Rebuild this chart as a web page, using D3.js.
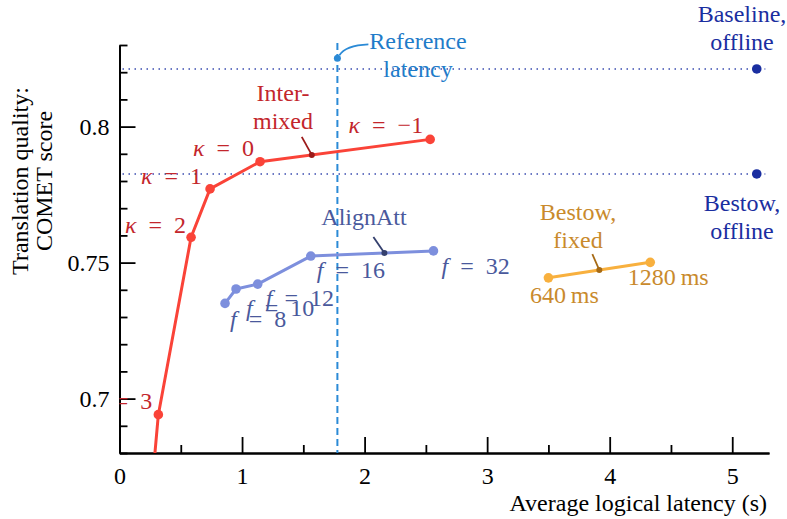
<!DOCTYPE html>
<html>
<head>
<meta charset="utf-8">
<script src="https://cdn.jsdelivr.net/npm/d3@7"></script>
<style>
  body { margin: 0; background: #fff; }
  svg text { font-family: "Liberation Serif", "Times New Roman", serif; }
  .axis path, .axis line { stroke: #000; stroke-width: 1.8; }
  .axis text { font-size: 24px; fill: #000; }
</style>
</head>
<body>
<div id="chart"></div>
<script>
// ---- data ----
var kappaLabels = ["\u22121", "0", "1", "2", "3", "4"];
var kappaLatency = [2.535, 1.147, 0.739, 0.584, 0.317, 0.21];
var kappaComet = [0.7953, 0.7871, 0.7771, 0.7593, 0.6941, 0.64];

var fLabels = ["8", "10", "12", "16", "32"];
var fLatency = [0.861, 0.951, 1.128, 1.561, 2.562];
var fComet = [0.7350, 0.7403, 0.7421, 0.7524, 0.7543];

var fixedLabels = ["640\u2009ms", "1280\u2009ms"];
var fixedLatency = [3.50, 4.331];
var fixedComet = [0.7444, 0.7501];

var offlineNames = [["Baseline,", "offline"], ["Bestow,", "offline"]];
var offlineLatency = [5.20, 5.20];
var offlineComet = [0.8212, 0.7826];

var referenceLatency = 1.778;
var referenceComet = 0.8251;

var xTicks = [0, 1, 2, 3, 4, 5];
var xMinor = [0.5, 1.5, 2.5, 3.5, 4.5];
var yTicks = [0.7, 0.75, 0.8];
var yMinor = [0.68, 0.69, 0.71, 0.72, 0.73, 0.74, 0.76, 0.77, 0.78, 0.79, 0.81, 0.82, 0.83];

// ---- layout ----
var svgwidth = 787, svgheight = 519;
var plotLeft = 119.5, plotRight = 769, plotTop = 45, plotBottom = 453;
var fs = "24px";

var red = "#fa4338", redText = "#c3262c";
var blue = "#7d8fdd", blueText = "#4a599c";
var orange = "#f8b03e", orangeText = "#c98a2c";
var navy = "#1a2ea0";
var refBlue = "#2b8ad6", refText = "#1f7cc9";

var svg = d3.select("#chart").append("svg")
    .attr("width", svgwidth)
    .attr("height", svgheight);

var x = d3.scaleLinear().domain([0, 5.3]).range([plotLeft, plotRight]);
var y = d3.scaleLinear().domain([0.68, 0.83]).range([plotBottom, plotTop]);

svg.append("clipPath").attr("id", "plot")
  .append("rect").attr("x", plotLeft).attr("y", 0)
  .attr("width", svgwidth - plotLeft).attr("height", plotBottom);

// axes
svg.append("g").attr("class", "axis")
    .attr("transform", `translate(0,${plotBottom})`)
    .call(d3.axisBottom(x).tickValues(xMinor).tickSizeInner(-8).tickSizeOuter(0).tickFormat(""));
svg.append("g").attr("class", "axis")
    .attr("transform", `translate(0,${plotBottom})`)
    .call(d3.axisBottom(x).tickValues(xTicks).tickSizeInner(-16).tickSizeOuter(0).tickPadding(14).tickFormat(d3.format("d")));
svg.append("g").attr("class", "axis")
    .attr("transform", `translate(${plotLeft},0)`)
    .call(d3.axisLeft(y).tickValues(yMinor).tickSizeInner(-8).tickSizeOuter(0).tickFormat(""));
svg.append("g").attr("class", "axis")
    .attr("transform", `translate(${plotLeft},0)`)
    .call(d3.axisLeft(y).tickValues(yTicks).tickSizeInner(-16).tickSizeOuter(0).tickPadding(10).tickFormat(d => d3.format("")(d)));
svg.selectAll(".axis .domain").attr("stroke-width", 2);

// axis titles
svg.append("text")
    .attr("x", 767).attr("y", 511)
    .attr("text-anchor", "end")
    .style("font-size", fs)
    .text("Average logical latency (s)");

var ytitle = svg.append("text")
    .attr("transform", "translate(28,181) rotate(-90)")
    .attr("text-anchor", "middle")
    .style("font-size", fs);
ytitle.append("tspan").attr("x", 0).attr("y", 0).text("Translation quality:");
ytitle.append("tspan").attr("x", 0).attr("y", 24).text("COMET score");

// offline dotted lines
offlineComet.forEach(function (c, i) {
  svg.append("line")
    .attr("x1", x(0) + 3).attr("x2", x(5.27))
    .attr("y1", y(c)).attr("y2", y(c))
    .attr("stroke", "#3a4cb0").attr("stroke-width", 1.5)
    .attr("stroke-dasharray", "1.5,4.5");
  svg.append("circle").attr("cx", x(offlineLatency[i])).attr("cy", y(c)).attr("r", 4.8).attr("fill", navy);
});

// reference latency
svg.append("line")
  .attr("x1", x(referenceLatency)).attr("x2", x(referenceLatency))
  .attr("y1", plotTop - 2).attr("y2", plotBottom)
  .attr("stroke", refBlue).attr("stroke-width", 2)
  .attr("stroke-dasharray", "7,4");
svg.append("circle").attr("cx", x(referenceLatency)).attr("cy", y(referenceComet)).attr("r", 3.5).attr("fill", refBlue);
var rx = x(referenceLatency), ry = y(referenceComet);
svg.append("path")
  .attr("d", `M${rx + 2},${ry - 3} Q${rx + 8},${ry - 13} ${rx + 31},${ry - 14}`)
  .attr("fill", "none").attr("stroke", refBlue).attr("stroke-width", 1.8);

var plot = svg.append("g").attr("clip-path", "url(#plot)");

function series(xs, ys, color) {
  var pts = xs.map((v, i) => [x(v), y(ys[i])]);
  plot.append("path")
    .attr("d", d3.line()(pts))
    .attr("fill", "none").attr("stroke", color)
    .attr("stroke-width", 3).attr("stroke-linejoin", "round");
  plot.selectAll(null).data(pts).enter().append("circle")
    .attr("cx", d => d[0]).attr("cy", d => d[1]).attr("r", 4.8).attr("fill", color);
  return pts;
}

// small annotation dot on a segment, with a short leader line
function marker(pts, i, t, color, lx, ly) {
  var mx = pts[i][0] + (pts[i + 1][0] - pts[i][0]) * t;
  var my = pts[i][1] + (pts[i + 1][1] - pts[i][1]) * t;
  svg.append("line").attr("x1", mx + lx).attr("y1", my + ly).attr("x2", mx).attr("y2", my)
    .attr("stroke", color).attr("stroke-width", 1.8);
  svg.append("circle").attr("cx", mx).attr("cy", my).attr("r", 3).attr("fill", color);
}

var kPts = series(kappaLatency, kappaComet, red);
var fPts = series(fLatency, fComet, blue);
var bPts = series(fixedLatency, fixedComet, orange);

marker(kPts, 0, 0.696, "#9c1a1a", -10, -18);
marker(fPts, 3, 0.6, "#34406e", -11, -16);
marker(bPts, 0, 0.5, "#a66a15", -7, -16);

// labels
var labels = svg.append("g").attr("clip-path", "url(#plot)").style("font-size", fs);

function mathLabel(g, sym, val, px, py, anchor, color) {
  var t = g.append("text").attr("x", px).attr("y", py)
    .attr("text-anchor", anchor).attr("fill", color);
  t.append("tspan").style("font-style", "italic").text(sym);
  t.append("tspan").text("\u2002=\u2002" + val);
}

var kOff = [[-7, -6], [-6, -6], [-8, -5], [-5, -4], [-6, -6]];
kOff.forEach(function (o, i) {
  mathLabel(labels, "\u03ba", kappaLabels[i], kPts[i][0] + o[0], kPts[i][1] + o[1], "end", redText);
});

var fOff = [[5, 24], [10, 27], [8, 22], [6, 22], [8, 23]];
fOff.forEach(function (o, i) {
  mathLabel(labels, "f", fLabels[i], fPts[i][0] + o[0], fPts[i][1] + o[1], "start", blueText);
});

var bOff = [[16, 25], [18, 23]];
bOff.forEach(function (o, i) {
  labels.append("text").attr("x", bPts[i][0] + o[0]).attr("y", bPts[i][1] + o[1])
    .attr("text-anchor", "middle").attr("fill", orangeText).text(fixedLabels[i]);
});

function block(lines, cx, cy, color) {
  var t = svg.append("text").attr("text-anchor", "middle").attr("fill", color).style("font-size", fs);
  lines.forEach(function (s, i) {
    t.append("tspan").attr("x", cx).attr("y", cy + i * 28).text(s);
  });
}

block(["Inter-", "mixed"], 283, 101, redText);
block(["AlignAtt"], 364, 225, blueText);
block(["Bestow,", "fixed"], 578, 220, orangeText);
block(["Reference", "latency"], 418, 49, refText);
block(offlineNames[0], 742, 22, navy);
block(offlineNames[1], 742, 211, navy);
</script>
</body>
</html>
